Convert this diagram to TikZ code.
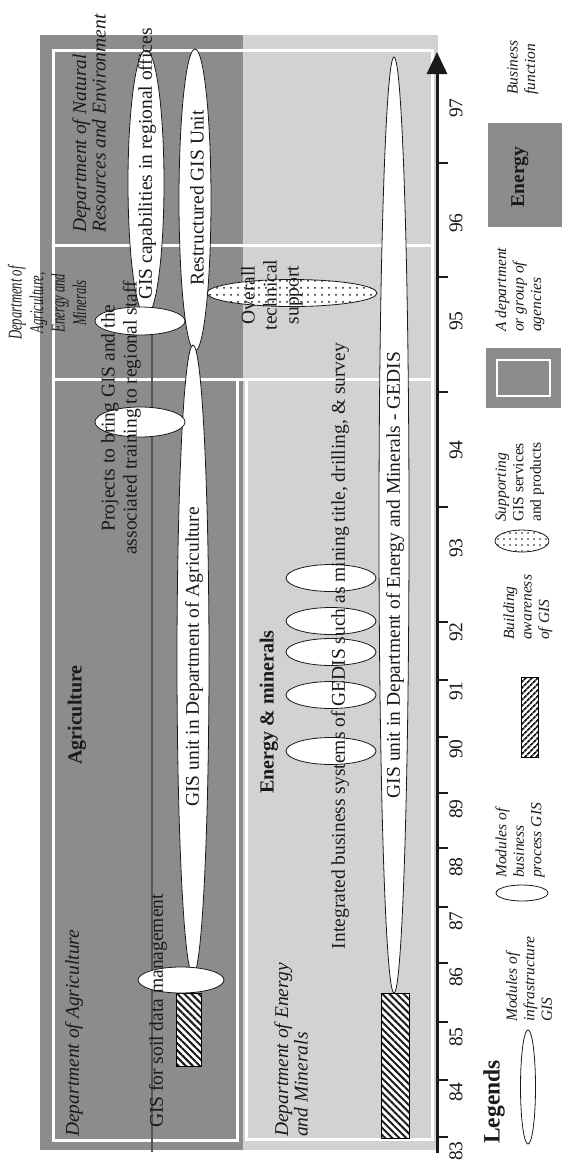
\documentclass[tikz,border=0pt]{standalone}
\usepackage{fontspec}
\setmainfont{Liberation Serif}
\usepackage{xcolor}
\definecolor{cDark}{HTML}{8C8C8C}
\definecolor{cLight}{HTML}{D2D2D2}
\definecolor{cInk}{HTML}{1A1A1A}
\definecolor{cRule}{HTML}{555555}
\usepackage{tikz}
\usetikzlibrary{arrows.meta,patterns.meta}
\tikzset{
  lbl/.style={rotate=90,inner sep=0pt,text=cInk,align=center,
    font=\fontsize{19.5}{22}\selectfont},
  lbl-dept/.style={lbl,align=left,font=\fontsize{19.5}{19.5}\selectfont\itshape},
  lbl-func/.style={lbl,font=\fontsize{20}{22}\selectfont\bfseries},
  lbl-year/.style={lbl,font=\fontsize{19.5}{20}\selectfont},
  lbl-legend/.style={lbl,align=left,font=\fontsize{15.5}{17.5}\selectfont\itshape},
  % 模块：白色椭圆 / 点状椭圆 / 斜线块
  mod-infra/.style={draw=cInk,thick,fill=white},
  mod-process/.style={draw=cInk,thick,fill=white},
  mod-support/.style={draw=cInk,thick,preaction={fill=white},
    pattern={Dots[distance=7pt,radius=1pt]},pattern color=cInk},
  aware-hatch/.style={preaction={fill=white},
    pattern={Lines[angle=-45,distance=5pt,line width=2pt]},pattern color=cInk},
  dept-frame/.style={draw=white,line width=3pt},
  year-tick/.style={draw=cInk,line width=2pt},
  axis-line/.style={draw=cInk,line width=3pt,-{Triangle[length=22pt,width=20pt]}},
}

\begin{document}
\begin{tikzpicture}[x=1pt,y=-1pt]
  \useasboundingbox (0,0) rectangle (562,1163);

  % departments
  \fill[cLight] (40,35) rectangle (438,1150);
  \fill[cDark] (40,35) rectangle (243,1150);
  \draw[dept-frame] (53,50) rectangle (432,245);
  \draw[dept-frame] (53,245) rectangle (432,379);
  \draw[dept-frame] (53,379) rectangle (237,1140);
  \draw[dept-frame] (246,379) rectangle (432,1139);
  \draw[cRule,line width=2pt] (152,335) -- (152,1152);

  \node[lbl-dept] (dNRE) [anchor=west] at (89,233) {Department of Natural\\Resources and Environment};
  \node[lbl-dept,align=center,font=\fontsize{19.5}{21.5}\selectfont\itshape,xscale=0.65] (dAEM) at (47,303)
    {Department of\\Agriculture,\\Energy and\\Minerals};
  \node[lbl-dept] (dAgr) [anchor=west] at (74,1137) {Department of Agriculture};
  \node[lbl-dept] (dEM) [anchor=west] at (291,1137) {Department of Energy\\and Minerals};

  \node[lbl-func] (fAgr) at (77,715) {Agriculture};
  \node[lbl-func] (fEM) at (269,712) {Energy \& minerals};

  % agriculture column
  \draw[mod-infra] (146,183) ellipse [x radius=18pt,y radius=133pt];
  \draw[mod-infra] (195,200) ellipse [x radius=16pt,y radius=151pt];
  \draw[mod-infra] (193,660) ellipse [x radius=16pt,y radius=315pt];
  \draw[mod-process] (140,321) ellipse [x radius=45pt,y radius=14pt];
  \draw[mod-process] (140,422) ellipse [x radius=45pt,y radius=15pt];
  \draw[aware-hatch] (176,993) rectangle (201,1066);
  \draw[mod-process] (181,980) ellipse [x radius=43pt,y radius=13pt];

  \node[lbl] (tCap) at (147,164) {GIS capabilities in regional offices};
  \node[lbl] (tRestr) at (197,198) {Restructured GIS Unit};
  \node[lbl] (tAgrUnit) at (194,657) {GIS unit in Department of Agriculture};
  \node[lbl] (tProj) at (121,418) {Projects to bring GIS and the\\associated training to regional staff};
  \node[lbl] (tSoil) at (158,1011) {GIS for soil data management};

  % energy column
  \draw[mod-infra] (394,525) ellipse [x radius=15pt,y radius=468pt];
  \draw[aware-hatch] (381,993) rectangle (409,1138);
  \foreach \my in {578,621,652,695,751}
    \draw[mod-process] (331,\my) ellipse [x radius=45pt,y radius=13.5pt];
  \draw[mod-support] (292,293) ellipse [x radius=85pt,y radius=13.5pt];

  \node[lbl] (tSupport) at (272,295) {Overall\\technical\\support};
  \node[lbl] (tIntegr) at (340,646) {Integrated business systems of GEDIS such as mining title, drilling, \& survey};
  \node[lbl] (tGedis) at (395,575) {GIS unit in Department of Energy and Minerals - GEDIS};

  % time axis
  \draw[axis-line] (437,1153) -- (437,52);
  \foreach \ty in {1137,1080,1022,963,907,848,793,737,680,622,507,392,277,163}
    \draw[year-tick] (437,\ty) -- (448,\ty);
  \foreach \yr/\ty in {83/1151,84/1092,85/1037,86/977,87/921,88/867,89/809,90/749,
      91/691,92/632,93/548,94/450,95/321,96/223,97/108}
    \node[lbl-year] (y\yr) at (456,\ty) {\yr};

  % legends
  \node[lbl,font=\fontsize{23.5}{24}\selectfont\bfseries] (leg) at (494,1102) {Legends};
  \draw[mod-infra] (528,1087) ellipse [x radius=7.5pt,y radius=57pt];
  \node[lbl-legend] (legInfra) [anchor=west] at (529,1022) {Modules of\\infrastructure\\GIS};
  \draw[mod-process] (522,893) ellipse [x radius=26pt,y radius=8pt];
  \node[lbl-legend] (legProc) [anchor=west] at (520,878) {Modules of\\business\\process GIS};
  \draw[aware-hatch,pattern={Lines[angle=45,distance=4pt,line width=1.8pt]}] (521,677) rectangle (538,757);
  \node[lbl-legend] (legAware) [anchor=west] at (528,640) {Building\\awareness\\of GIS};
  \draw[mod-support,pattern={Dots[distance=6pt,radius=0.9pt]}] (522,541) ellipse [x radius=27pt,y radius=11pt];
  \node[lbl-legend] (legSupp) [anchor=west] at (520,522) {Supporting\\\upshape GIS services\\\upshape and products};
  \fill[cDark] (486,348) rectangle (561,408);
  \draw[white,line width=1.5pt] (497,360) rectangle (550,396);
  \node[lbl-legend] (legDept) [anchor=west] at (520,332) {A department\\or group of\\agencies};
  \fill[cDark] (488,123) rectangle (563,227);
  \node[lbl-func,font=\fontsize{19.5}{22}\selectfont\bfseries] (legEnergy) at (520,177) {Energy};
  \node[lbl-legend] (legFunc) [anchor=west] at (523,95) {Business\\function};
\end{tikzpicture}
\end{document}
